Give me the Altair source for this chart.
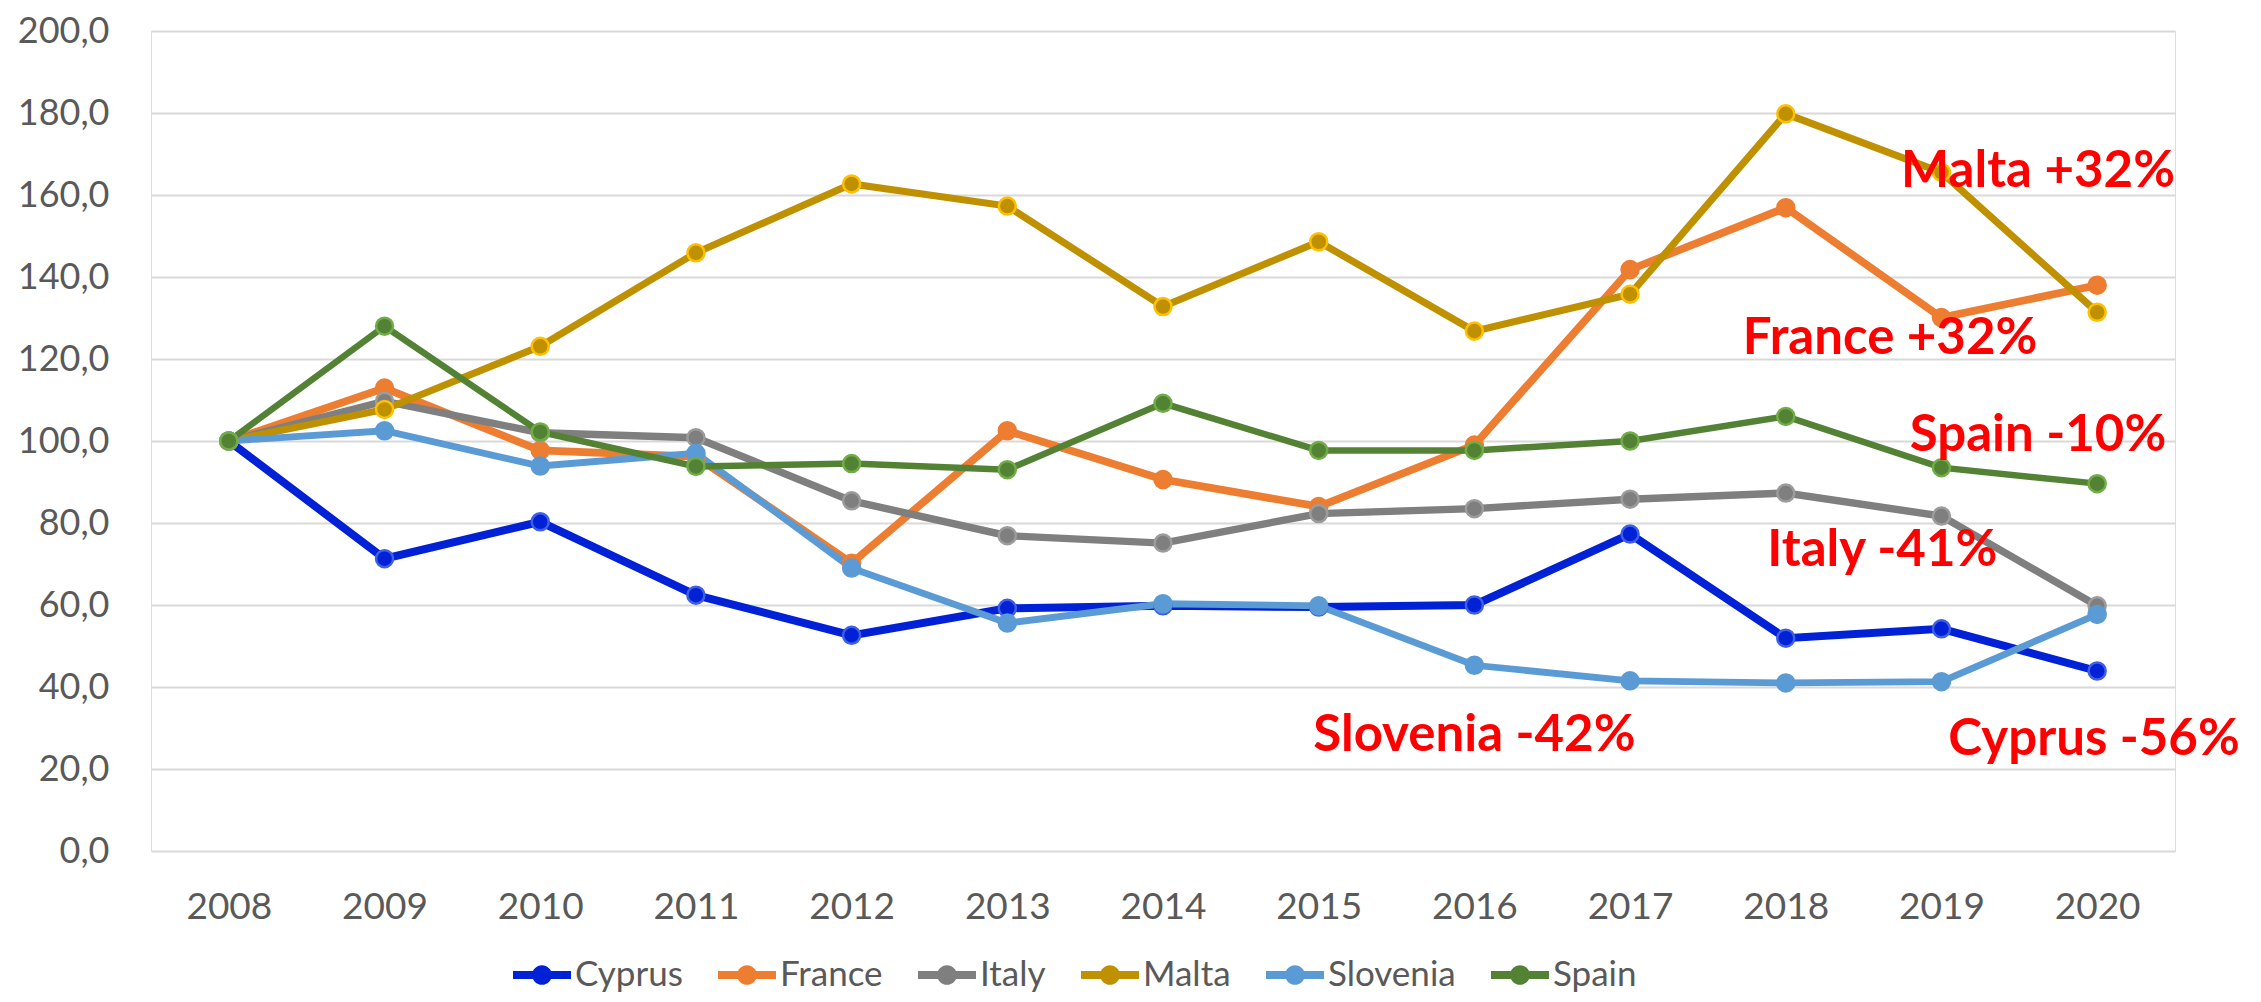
import altair as alt
import pandas as pd

years = list(range(2008, 2021))
countries = ["Cyprus", "France", "Italy", "Malta", "Slovenia", "Spain"]

cyprus = [100, 71.3, 80.3, 62.4, 52.6, 59.2, 59.8, 59.5, 60.0, 77.3, 51.9, 54.2, 43.9]
france = [100, 112.9, 97.7, 96.2, 70.2, 102.5, 90.6, 84.0, 99.0, 141.8, 156.9, 130.1, 138.0]
italy = [100, 109.7, 102.0, 100.8, 85.4, 76.9, 75.1, 82.3, 83.5, 85.8, 87.3, 81.7, 59.8]
malta = [100, 107.7, 123.1, 145.9, 162.7, 157.3, 132.8, 148.6, 126.8, 135.8, 179.8, 165.5, 131.4]
slovenia = [100, 102.5, 93.9, 97.0, 69.0, 55.6, 60.3, 59.8, 45.3, 41.5, 41.0, 41.3, 57.7]
spain = [100, 128.0, 102.2, 93.8, 94.5, 93.0, 109.2, 97.7, 97.7, 100.0, 106.0, 93.5, 89.6]

line_colors = ["#0021D6", "#ED7D31", "#7F7F7F", "#BF9000", "#5B9BD5", "#548235"]
marker_edges = ["#3F5FE6", "#ED7D31", "#9C9C9C", "#FFC000", "#5B9BD5", "#70AD47"]
line_widths = [8, 6.5, 6.5, 6.5, 6.5, 6.5]

ann_labels = ["Malta +32%", "France +32%", "Spain -10%", "Italy -41%", "Slovenia -42%", "Cyprus -56%"]
ann_x = [2019.62, 2018.67, 2019.62, 2018.62, 2016.00, 2019.98]
ann_y = [162.0, 121.2, 97.5, 69.5, 24.5, 23.5]

y_ticks = list(range(0, 201, 20))

series = [cyprus, france, italy, malta, slovenia, spain]
rows = []
for c, vals in zip(countries, series):
    for yr, v in zip(years, vals):
        rows.append({"country": c, "year": yr, "value": v})
df = pd.DataFrame(rows)
ann = pd.DataFrame({"label": ann_labels, "x": ann_x, "y": ann_y})

FONT = "Lato"
GREY = "#595959"

x_enc = alt.X("year:Q", scale=alt.Scale(domain=[2007.5, 2020.5], nice=False, zero=False),
              axis=alt.Axis(values=years, format="d", grid=False, domain=False, ticks=False,
                            labelFont=FONT, labelFontSize=37, labelColor=GREY, labelPadding=38,
                            title=None))
y_enc = alt.Y("value:Q", scale=alt.Scale(domain=[0, 200], nice=False),
              axis=alt.Axis(values=y_ticks, grid=True, gridColor="#D9D9D9", gridWidth=2,
                            domain=False, ticks=False, labelFont=FONT, labelFontSize=36,
                            labelColor=GREY, labelPadding=42, title=None,
                            labelExpr="replace(format(datum.value, '.1f'), '.', ',')"))

legend_symbol = ("M-1,-0.14L1,-0.14L1,0.14L-1,0.14Z "
                 "M0.34,0A0.34,0.34 0 1,1 -0.34,0A0.34,0.34 0 1,1 0.34,0Z")

lines = alt.Chart(df).mark_line().encode(
    x=x_enc, y=y_enc,
    color=alt.Color("country:N", scale=alt.Scale(domain=countries, range=line_colors), legend=None),
    strokeWidth=alt.StrokeWidth("country:N", scale=alt.Scale(domain=countries, range=line_widths),
                                legend=None),
    detail="country:N")

points = alt.Chart(df).mark_point(filled=True, size=290, strokeWidth=2.5, opacity=1).encode(
    x="year:Q", y="value:Q",
    fill=alt.Fill("country:N", scale=alt.Scale(domain=countries, range=line_colors),
                  legend=alt.Legend(orient="none", legendX=362, legendY=915,
                                    direction="horizontal", title=None,
                                    symbolType=legend_symbol, symbolSize=3364,
                                    symbolStrokeWidth=0, labelFont=FONT,
                                    labelFontSize=35, labelColor=GREY, labelOffset=4,
                                    columnPadding=35, symbolOpacity=1)),
    stroke=alt.Stroke("country:N", scale=alt.Scale(domain=countries, range=marker_edges), legend=None),
)
texts = alt.Chart(ann).mark_text(font=FONT, fontWeight="bold", fontSize=51, color="#FF0000",
                                 align="center", baseline="alphabetic").encode(
    x="x:Q", y="y:Q", text="label:N")

chart = alt.layer(lines, points, texts).resolve_scale(
    color="independent", fill="independent", stroke="independent").properties(
    width=2024, height=820,
    autosize=alt.AutoSizeParams(type="none"),
    padding={"left": 143, "top": 23, "right": 78, "bottom": 143},
).configure_view(stroke=None).configure(background="white")

chart.save("out.html", embed_options={"renderer": "svg", "actions": False})
